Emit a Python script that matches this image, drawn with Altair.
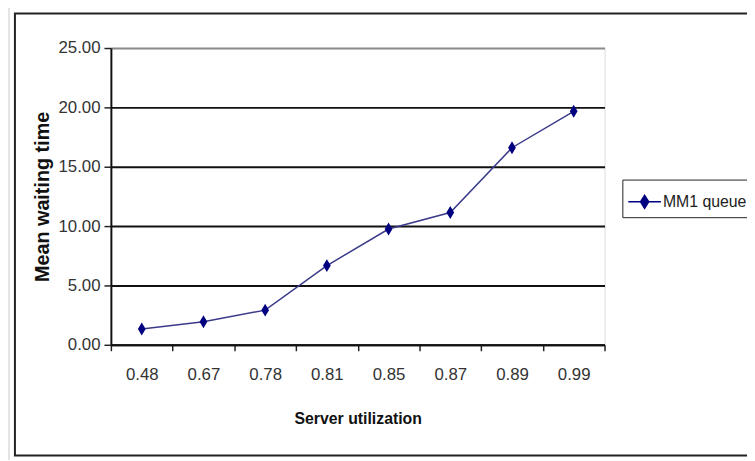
import altair as alt
import pandas as pd

utilization = ["0.48", "0.67", "0.78", "0.81", "0.85", "0.87", "0.89", "0.99"]
waiting = [1.33, 1.94, 2.92, 6.67, 9.75, 11.14, 16.60, 19.67]
series = ["MM1 queue"] * len(utilization)
y_ticks = [0, 5, 10, 15, 20, 25]

df = pd.DataFrame({"util": utilization, "wait": waiting, "series": series})
frame_df = pd.DataFrame({"f": [0]})

FONT = "Liberation Sans, Arial, sans-serif"
NAVY = "#000080"

diamond = "M0,-1L0.6,0L0,1L-0.6,0Z"
legend_sym = "M-1,0L1,0M0,-0.4L0.25,0L0,0.4L-0.25,0Z"

x_enc = alt.X(
    "util:N",
    sort=utilization,
    scale=alt.Scale(type="band", paddingInner=0, paddingOuter=0),
    axis=alt.Axis(
        title="Server utilization",
        labelAngle=0,
        tickBand="extent",
        tickSize=6,
        tickColor="#222",
        tickWidth=1.5,
        domainColor="#111",
        domainWidth=2,
        labelFont=FONT,
        labelFontSize=17,
        labelColor="#333",
        labelPadding=16,
        titleFont=FONT,
        titleFontSize=16,
        titleFontWeight="bold",
        titleColor="#111",
        titlePadding=29,
        grid=False,
    ),
)

y_enc = alt.Y(
    "wait:Q",
    scale=alt.Scale(domain=[0, 25], nice=False),
    axis=alt.Axis(
        title="Mean waiting time",
        values=y_ticks,
        format=".2f",
        tickSize=7,
        tickColor="#222",
        tickWidth=1.5,
        domainColor="#111",
        domainWidth=2,
        labelFont=FONT,
        labelFontSize=17,
        labelColor="#333",
        labelPadding=4,
        titleFont=FONT,
        titleFontSize=20,
        titleFontWeight="bold",
        titleColor="#111",
        titlePadding=6,
        grid=True,
        gridColor={"condition": {"test": "datum.value === 25", "value": "#8a8a8a"}, "value": "#111"},
        gridWidth=2,
    ),
)

frame = alt.Chart(frame_df).mark_rect(filled=False, stroke="#222", strokeWidth=2).encode(
    x=alt.value(-97), x2=alt.value(660), y=alt.value(-35), y2=alt.value(412)
)
outer = alt.Chart(frame_df).mark_rect(filled=False, stroke="#c8c8c8", strokeWidth=1).encode(
    x=alt.value(-103), x2=alt.value(700), y=alt.value(-60), y2=alt.value(500)
)

line = alt.Chart(df).mark_line(color="#3a3a8a", strokeWidth=1.5).encode(
    x=x_enc, y=y_enc
)

points = alt.Chart(df).mark_point(filled=True, shape=diamond, size=169, opacity=1).encode(
    x=x_enc,
    y=y_enc,
    color=alt.Color(
        "series:N",
        scale=alt.Scale(range=[NAVY]),
        legend=alt.Legend(
            title=None,
            orient="none",
            legendX=517,
            legendY=133,
            padding=5,
            strokeColor="#222",
            fillColor="white",
            symbolType=legend_sym,
            symbolSize=1089,
            symbolStrokeColor=NAVY,
            symbolStrokeWidth=1.5,
            symbolFillColor=NAVY,
            labelFont=FONT,
            labelFontSize=16,
            labelColor="#222",
            labelOffset=1,
        ),
    ),
)

chart = (
    alt.layer(outer, frame, line, points)
    .properties(
        width=499,
        height=300,
        padding={"left": 104, "top": 38, "right": 144, "bottom": 114},
        autosize=alt.AutoSizeParams(type="none"),
    )
    .configure_view(fill="#C0C0C0", stroke="#8a8a8a", strokeWidth=1.5)
    .configure(background="white")
)

chart.save("out.html", embed_options={"renderer": "svg", "actions": False})
